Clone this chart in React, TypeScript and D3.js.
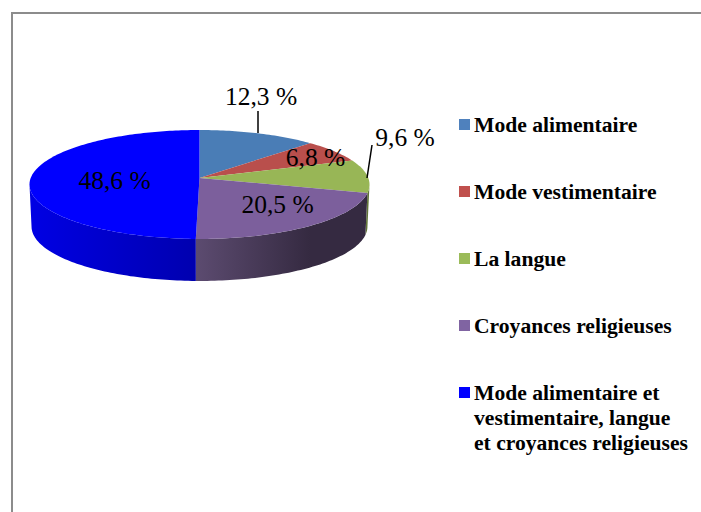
import React from 'react';
import * as d3 from 'd3';

const categories = [
  'Mode alimentaire',
  'Mode vestimentaire',
  'La langue',
  'Croyances religieuses',
  'Mode alimentaire et vestimentaire, langue et croyances religieuses',
];
const values = [12.3, 6.8, 9.6, 20.5, 48.6];
const valueLabels = ['12,3 %', '6,8 %', '9,6 %', '20,5 %', '48,6 %'];
const legendLines = [
  ['Mode alimentaire'],
  ['Mode vestimentaire'],
  ['La langue'],
  ['Croyances religieuses'],
  ['Mode alimentaire et', 'vestimentaire, langue', 'et croyances religieuses'],
];

const topColors = ['#4a7db6', '#b94f4c', '#98b656', '#7c5f9c', '#0000ff'];
const legendColors = ['#4f81bd', '#c0504d', '#9bbb59', '#8064a2', '#0000ff'];
const wallStops = [
  ['#35557c', '#35557c'],
  ['#7c3432', '#7c3432'],
  ['#6f8540', '#5f7236'],
  ['#5c4b70', '#352a41'],
  ['#0000e4', '#0000ae'],
];

// disque vu en perspective
const hub = { x: 199.5, y: 178 };
const rx = 168.8;
const ry = 53.7;
const persp = 0.119;
const depth = 42;
const bottomScale = 0.988;

// partie visible de la paroi : entre les deux bords de la silhouette
const wallStart = Math.acos(-persp);
const wallEnd = 2 * Math.PI - wallStart;

type Pt = [number, number];

function project(angle: number): Pt {
  const u = Math.sin(angle);
  const v = -Math.cos(angle);
  const w = 1 / (1 - persp * v);
  return [hub.x + rx * u * w, hub.y + ry * v * w];
}

function projectBottom(angle: number): Pt {
  const p = project(angle);
  return [hub.x + (p[0] - hub.x) * bottomScale, p[1] + depth];
}

function sample(a0: number, a1: number): number[] {
  const n = Math.max(2, Math.ceil((a1 - a0) / 0.02));
  return d3.range(n + 1).map((i) => a0 + ((a1 - a0) * i) / n);
}

const lineGen = d3.line<Pt>();

const legendY = [132, 199, 266, 333, 400];
const labelPos: Pt[] = [
  [261, 105],
  [315.5, 166],
  [405, 146],
  [277.5, 213],
  [114.5, 189],
];
const leaders: [Pt, Pt][] = [
  [[258, 111], [258, 133]],
  [[372, 145], [367, 178]],
];

const serif = '"Liberation Serif", "Times New Roman", serif';

export default function App() {
  const arcs = d3.pie<number>().sort(null)(values);

  return (
    <svg
      width={701}
      height={512}
      style={{ position: 'absolute', left: 0, top: 0, background: '#fff' }}
    >
      <defs>
        {arcs.map((a, i) => {
          const xs = sample(a.startAngle, a.endAngle).map((t) => project(t)[0]);
          const x0 = i === 3 ? 196 : d3.min(xs);
          const x1 = i === 3 ? 310 : d3.max(xs);
          return (
            <linearGradient
              key={i}
              id={`wall${i}`}
              gradientUnits="userSpaceOnUse"
              x1={x0}
              x2={x1}
              y1={0}
              y2={0}
            >
              <stop offset="0" stopColor={wallStops[i][0]} />
              <stop offset="1" stopColor={wallStops[i][1]} />
            </linearGradient>
          );
        })}
      </defs>

      {/* cadre */}
      <path d="M12,512V13H701" fill="none" stroke="#8c8c8c" strokeWidth={2} />

      {/* parois */}
      {arcs.map((a, i) => {
        const a0 = Math.max(a.startAngle, wallStart);
        const a1 = Math.min(a.endAngle, wallEnd);
        if (a1 <= a0) return null;
        const ts = sample(a0, a1);
        const pts = [...ts.map(project), ...ts.slice().reverse().map(projectBottom)];
        return <path key={i} d={lineGen(pts) + 'Z'} fill={`url(#wall${i})`} />;
      })}

      {/* faces */}
      {arcs.map((a, i) => {
        const ts = sample(a.startAngle, a.endAngle);
        const pts: Pt[] = [[hub.x, hub.y], ...ts.map(project)];
        return <path key={i} d={lineGen(pts) + 'Z'} fill={topColors[i]} />;
      })}

      {leaders.map((l, i) => (
        <path key={i} d={lineGen(l) ?? ''} stroke="#000" strokeWidth={1.5} fill="none" />
      ))}

      {valueLabels.map((t, i) => (
        <text
          key={t}
          x={labelPos[i][0]}
          y={labelPos[i][1]}
          textAnchor="middle"
          fontFamily={serif}
          fontSize={25.5}
          fill="#000"
        >
          {t}
        </text>
      ))}

      {categories.map((c, i) => (
        <g key={c}>
          <rect x={459} y={legendY[i] - 13} width={11} height={11} fill={legendColors[i]} />
          <text fontFamily={serif} fontSize={21.6} fontWeight="bold" fill="#000">
            {legendLines[i].map((line, j) => (
              <tspan key={j} x={474} y={legendY[i] + j * 25}>
                {line}
              </tspan>
            ))}
          </text>
        </g>
      ))}
    </svg>
  );
}
